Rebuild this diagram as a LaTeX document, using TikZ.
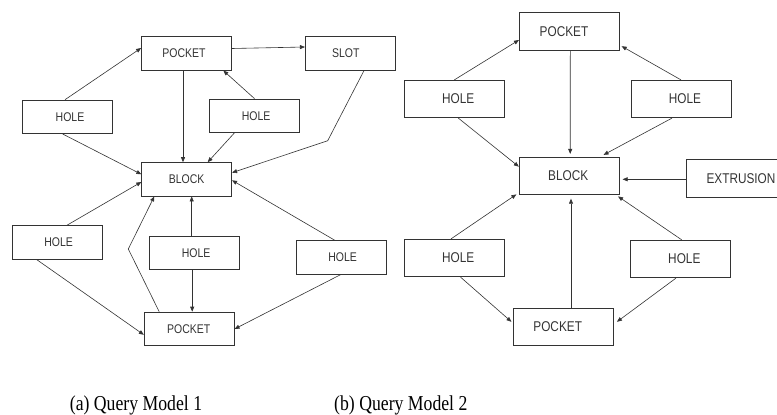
\documentclass[tikz,border=0pt]{standalone}
\usepackage{fontspec}
\setmainfont{Liberation Serif}
\newfontfamily\boxfont{Liberation Sans}
\usetikzlibrary{arrows.meta}
% label text, stretched a little vertically; #1 = twice the horizontal nudge
\newcommand\tallbox[2]{\scalebox{1}[1.2]{\hspace*{#1}#2}}
\begin{document}
\begin{tikzpicture}[x=1pt,y=-1pt,
  boxL/.style={draw=black!80, line width=0.7pt, minimum width=90pt,
    minimum height=33.5pt, inner sep=0pt, text=black!80,
    font=\boxfont\fontsize{10.5}{12}\selectfont},
  boxR/.style={boxL, minimum width=100pt, minimum height=37.5pt,
    font=\boxfont\fontsize{11.8}{13}\selectfont},
  link/.style={draw=black!80, line width=0.6pt,
    -{Triangle[length=5pt,width=4pt]}},
  caption/.style={anchor=base, inner sep=0pt, font=\fontsize{17.7}{20}\selectfont}]
\useasboundingbox (0,0) rectangle (777,415);

% ---------- Query model 1 ----------
\node[boxL] (pA)   at (186.5,53.5)  {\tallbox{-5pt}{POCKET}};
\node[boxL] (slot) at (350.3,53.5)  {\tallbox{-9pt}{SLOT}};
\node[boxL] (hA)   at (67,116.8)    {\tallbox{6pt}{HOLE}};
\node[boxL] (hB)   at (254.5,115.7) {\tallbox{3.4pt}{HOLE}};
\node[boxL] (blk)  at (186.7,179.3) {\tallbox{0pt}{BLOCK}};
\node[boxL] (hC)   at (57.7,242.5)  {\tallbox{2pt}{HOLE}};
\node[boxL] (hD)   at (194.2,252.8) {\tallbox{4pt}{HOLE}};
\node[boxL] (hE)   at (341.7,257.5) {\tallbox{2pt}{HOLE}};
\node[boxL] (pB)   at (189.2,328.8) {\tallbox{-1pt}{POCKET}};

\coordinate (bendS) at (327.7,140.7);
\coordinate (bendP) at (128.3,249);

\draw[link] ([shift={(-2,0)}]hA.north) -- ([shift={(0,-5.5)}]pA.west);
\draw[link] ([shift={(0,-5)}]pA.east) -- ([shift={(0,-6.5)}]slot.west);
\draw[link] ([shift={(-3.5,0)}]pA.south) -- ([shift={(-3.7,0)}]blk.north);
\draw[link] (hB.north) -- ([shift={(-8.5,0)}]pA.south east);
\draw[link] ([shift={(-20,0)}]hB.south) -- ([shift={(21,0)}]blk.north);
\draw[link] ([shift={(-4.5,0)}]hA.south) -- ([shift={(0,-5)}]blk.west);
\draw[link] ([shift={(13.7,0)}]slot.south) -- (bendS) -- ([shift={(0,-6.6)}]blk.east);
\draw[link] ([shift={(9,0)}]hC.north) -- ([shift={(0,2.7)}]blk.west);
\draw[link] ([shift={(-21,0)}]hC.south) -- ([shift={(0,6)}]pB.west);
\draw[link] ([shift={(-30,0)}]pB.north) -- (bendP) -- ([shift={(-32.4,0)}]blk.south);
\draw[link] ([shift={(-2.5,0)}]hD.north) -- ([shift={(5,0)}]blk.south);
\draw[link] ([shift={(-2,0)}]hD.south) -- ([shift={(3,0)}]pB.north);
\draw[link] ([shift={(-6.7,0)}]hE.north) -- ([shift={(0,1)}]blk.east);
\draw[link] ([shift={(-1,0)}]hE.south) -- ([shift={(0,0.2)}]pB.east);

% ---------- Query model 2 ----------
\node[boxR] (qP)  at (569.3,31.2)  {\tallbox{-10.6pt}{POCKET}};
\node[boxR] (qhA) at (454.3,99)    {\tallbox{7.8pt}{HOLE}};
\node[boxR] (qhB) at (681,99)      {\tallbox{8pt}{HOLE}};
\node[boxR] (qB)  at (569.2,176)   {\tallbox{-2pt}{BLOCK}};
\node[boxR] (qE)  at (736.3,178.3) {\tallbox{9.4pt}{EXTRUSION}};
\node[boxR] (qhC) at (454.5,258)   {\tallbox{7.4pt}{HOLE}};
\node[boxR] (qhD) at (680.8,259)   {\tallbox{7pt}{HOLE}};
\node[boxR] (qPb) at (563.3,326.8) {\tallbox{-11.2pt}{POCKET}};

\draw[link] (qhA.north) -- ([shift={(0,8.8)}]qP.west);
\draw[link] (qhB.north) -- ([shift={(2,15)}]qP.east);
\draw[link] ([shift={(1,0)}]qP.south) -- ([shift={(1,-3)}]qB.north);
\draw[link] ([shift={(4,0)}]qhA.south) -- ([shift={(0,-9.3)}]qB.west);
\draw[link] ([shift={(-9,0)}]qhB.south) -- ([shift={(-16,-2)}]qB.north east);
\draw[link] ([shift={(0,1)}]qE.west) -- ([shift={(3,3.3)}]qB.east);
\draw[link] ([shift={(-3.5,0)}]qhC.north) -- ([shift={(-2.5,-0.7)}]qB.south west);
\draw[link] ([shift={(7.7,0)}]qPb.north) -- ([shift={(1.8,3.6)}]qB.south);
\draw[link] ([shift={(1,0)}]qhD.north) -- ([shift={(-1.5,1.3)}]qB.south east);
\draw[link] ([shift={(6,0)}]qhC.south) -- ([shift={(-1.5,-5)}]qPb.west);
\draw[link] ([shift={(-4.8,0)}]qhD.south) -- ([shift={(3.3,-5)}]qPb.east);

% ---------- captions ----------
\node[caption] (capA) at (136,410.7) {\scalebox{1}[1.2]{(a) Query Model 1}};
\node[caption] (capB) at (400.8,410.7) {\scalebox{1}[1.2]{(b) Query Model 2}};
\end{tikzpicture}
\end{document}
